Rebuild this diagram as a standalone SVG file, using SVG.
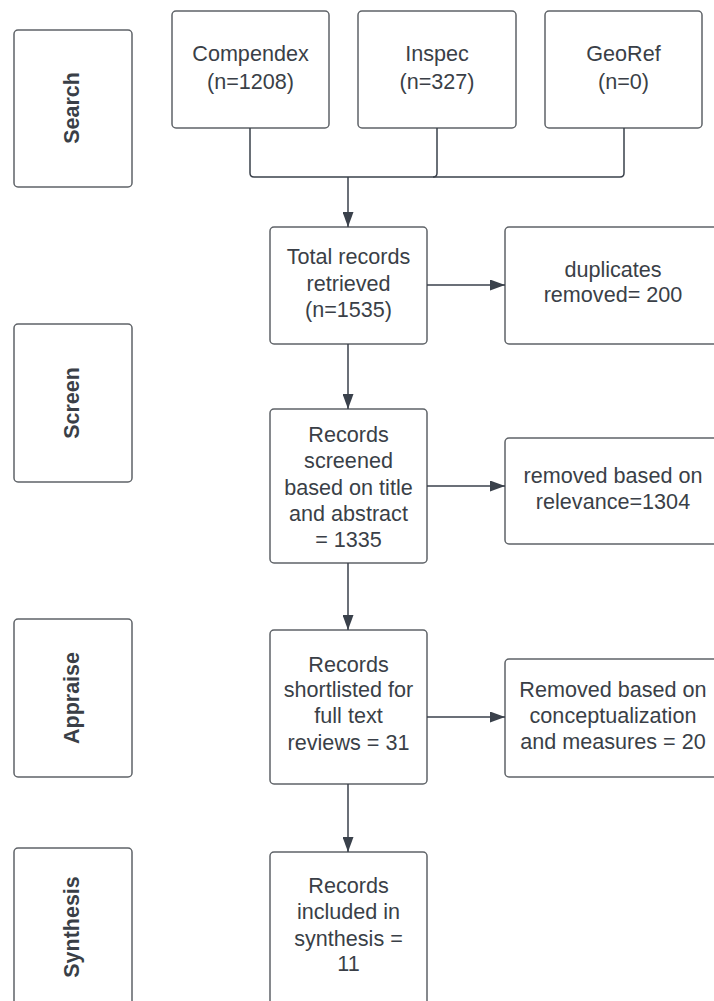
<svg xmlns="http://www.w3.org/2000/svg" width="714" height="1001" viewBox="0 0 714 1001">
<style>
.box{fill:#fff;stroke:#5f6368;stroke-width:1.5}
.t{font-family:"Liberation Sans",Arial,sans-serif;font-size:21.6px;fill:#3a3f47;text-anchor:middle}
.ph{font-family:"Liberation Sans",Arial,sans-serif;font-size:21.5px;font-weight:bold;fill:#3a3f47;text-anchor:middle}
.c{fill:none;stroke:#3a414b;stroke-width:1.5}
</style>
<defs>
<marker id="ah" markerWidth="15" markerHeight="11" refX="15" refY="5.5" orient="auto" markerUnits="userSpaceOnUse">
<path d="M0,0 L15,5.5 L0,11 Z" fill="#3a414b"/>
</marker>
</defs>
<rect width="714" height="1001" fill="#fff"/>
<g id="phase-search"><rect class="box" x="14" y="30" width="118" height="157" rx="4"/><text class="ph" transform="translate(79,108) rotate(-90)">Search</text></g>
<g id="phase-screen"><rect class="box" x="14" y="324" width="118" height="158" rx="4"/><text class="ph" transform="translate(79,403) rotate(-90)">Screen</text></g>
<g id="phase-appraise"><rect class="box" x="14" y="619" width="118" height="158" rx="4"/><text class="ph" transform="translate(79,698) rotate(-90)">Appraise</text></g>
<g id="phase-synthesis"><rect class="box" x="14" y="848" width="118" height="160" rx="4"/><text class="ph" transform="translate(79,927) rotate(-90)">Synthesis</text></g>
<g id="compendex"><rect class="box" x="172" y="11" width="157" height="117" rx="4"/><text class="t" x="250.5" y="61">Compendex</text><text class="t" x="250.5" y="89">(n=1208)</text></g>
<g id="inspec"><rect class="box" x="358" y="11" width="158" height="117" rx="4"/><text class="t" x="437" y="61">Inspec</text><text class="t" x="437" y="89">(n=327)</text></g>
<g id="georef"><rect class="box" x="545" y="11" width="157" height="117" rx="4"/><text class="t" x="623.5" y="61">GeoRef</text><text class="t" x="623.5" y="89">(n=0)</text></g>
<g id="total"><rect class="box" x="270" y="227" width="157" height="117" rx="4"/><text class="t" x="348.5" y="264">Total records</text><text class="t" x="348.5" y="291">retrieved</text><text class="t" x="348.5" y="317">(n=1535)</text></g>
<g id="duplicates"><rect class="box" x="505" y="227" width="216" height="117" rx="4"/><text class="t" x="613" y="277">duplicates</text><text class="t" x="613" y="302">removed= 200</text></g>
<g id="screened"><rect class="box" x="270" y="409" width="157" height="154" rx="4"/><text class="t" x="348.5" y="442">Records</text><text class="t" x="348.5" y="468">screened</text><text class="t" x="348.5" y="495">based on title</text><text class="t" x="348.5" y="521">and abstract</text><text class="t" x="348.5" y="547">= 1335</text></g>
<g id="relevance"><rect class="box" x="505" y="438" width="216" height="106" rx="4"/><text class="t" x="613" y="483">removed based on</text><text class="t" x="613" y="509">relevance=1304</text></g>
<g id="shortlisted"><rect class="box" x="270" y="630" width="157" height="154" rx="4"/><text class="t" x="348.5" y="672">Records</text><text class="t" x="348.5" y="697">shortlisted for</text><text class="t" x="348.5" y="723">full text</text><text class="t" x="348.5" y="750">reviews = 31</text></g>
<g id="conceptualization"><rect class="box" x="505" y="659" width="216" height="118" rx="4"/><text class="t" x="613" y="697">Removed based on</text><text class="t" x="613" y="723">conceptualization</text><text class="t" x="613" y="749">and measures = 20</text></g>
<g id="included"><rect class="box" x="270" y="852" width="157" height="160" rx="4"/><text class="t" x="348.5" y="893">Records</text><text class="t" x="348.5" y="919">included in</text><text class="t" x="348.5" y="946">synthesis =</text><text class="t" x="348.5" y="971">11</text></g>
<g id="connectors">
<path class="c" d="M250,128 V173 Q250,177 254,177 H620 Q624,177 624,173 V128"/>
<path class="c" d="M437,128 V173 Q437,177 433,177"/>
<path class="c" d="M348,177 V227" marker-end="url(#ah)"/>
<path class="c" d="M427,285 H505" marker-end="url(#ah)"/>
<path class="c" d="M348,344 V409" marker-end="url(#ah)"/>
<path class="c" d="M427,486 H505" marker-end="url(#ah)"/>
<path class="c" d="M348,563 V630" marker-end="url(#ah)"/>
<path class="c" d="M427,717 H505" marker-end="url(#ah)"/>
<path class="c" d="M348,784 V852" marker-end="url(#ah)"/>
</g>
</svg>
